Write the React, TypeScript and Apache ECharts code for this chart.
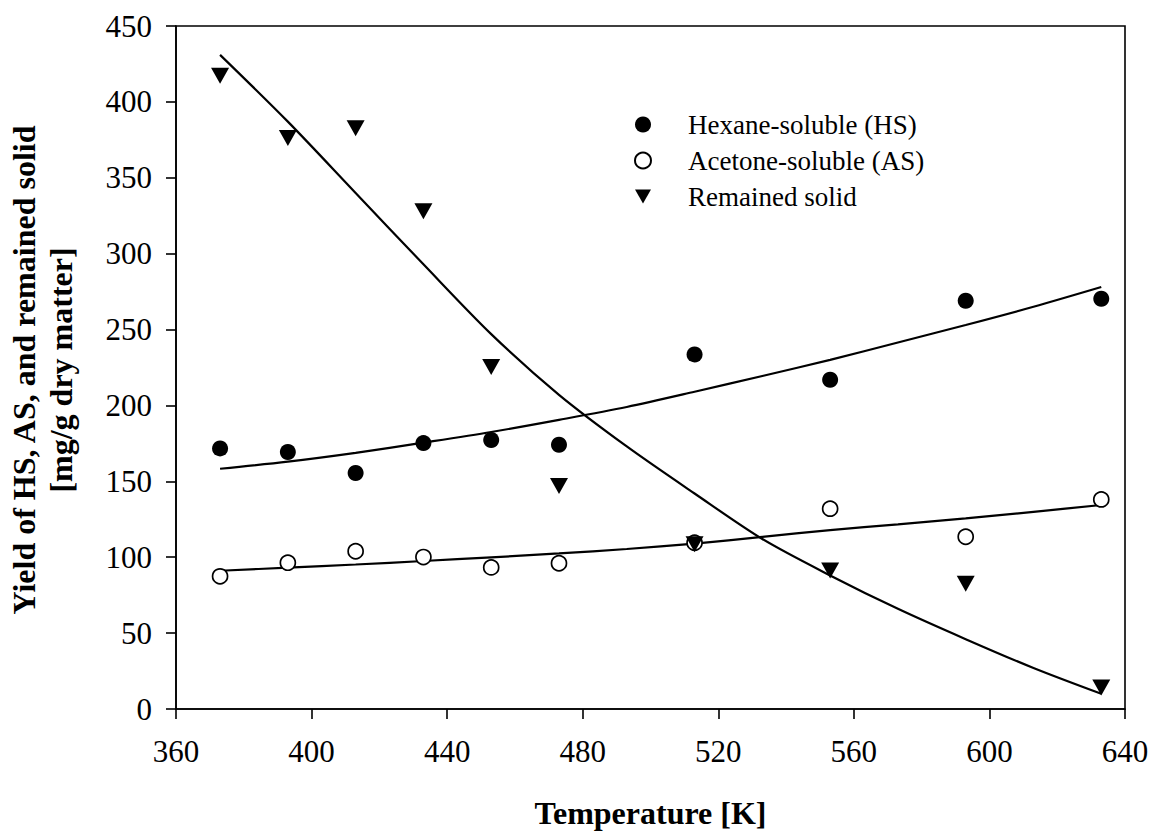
import React, { useEffect, useRef } from "react";
import * as echarts from "echarts";

const temps = [373, 393, 413, 433, 453, 473, 513, 553, 593, 633];
const hexaneSoluble = [171.7, 169.3, 155.5, 175.2, 177.2, 174.1, 233.6, 216.9, 269.0, 270.3];
const acetoneSoluble = [87.4, 96.4, 103.9, 100.1, 93.3, 96.0, 109.5, 132.0, 113.5, 138.1];
const remainedSolid = [417.3, 376.2, 382.7, 327.9, 225.3, 147.0, 108.6, 91.2, 82.5, 14.2];

const fitX = [373, 393, 413, 433, 453, 473, 493, 513, 533, 553, 573, 593, 613, 633];
const fitHS = [158.3, 163.0, 168.8, 175.5, 182.5, 190.5, 199.0, 209.0, 219.4, 230.0, 241.5, 253.0, 265.0, 278.0];
const fitAS = [91.1, 93.1, 95.2, 97.5, 99.9, 102.5, 105.4, 109.0, 113.4, 117.9, 121.7, 125.6, 129.9, 134.4];
const fitRS = [431.0, 387.0, 340.0, 293.0, 247.0, 207.0, 173.0, 142.0, 112.0, 88.0, 66.0, 46.0, 27.0, 10.0];

const xTicks = { min: 360, max: 640, interval: 40 };
const yTicks = { min: 0, max: 450, interval: 50 };

const seriesNames = ["Hexane-soluble (HS)", "Acetone-soluble (AS)", "Remained solid"];
const xTitle = "Temperature [K]";
const yTitle = "Yield of HS, AS, and remained solid\n[mg/g dry matter]";

const FONT = "Liberation Serif, Times New Roman, serif";
const DOWN_TRIANGLE = "path://M0,0L18,0L9,16Z";

const zip = (xs: number[], ys: number[]) => xs.map((x, i) => [x, ys[i]]);

export default function App() {
  const ref = useRef<HTMLDivElement>(null);
  useEffect(() => {
    if (!ref.current) return;
    const chart = echarts.init(ref.current, null, { renderer: "svg" });
    const fitLine = (xs: number[], ys: number[]) => ({
      type: "line",
      data: zip(xs, ys),
      smooth: 0.3,
      showSymbol: false,
      symbol: "none",
      silent: true,
      lineStyle: { color: "#000", width: 2.2 },
      z: 1,
    });
    chart.setOption({
      animation: false,
      backgroundColor: "#fff",
      textStyle: { fontFamily: FONT, color: "#000" },
      grid: {
        left: 176,
        right: 35,
        top: 26,
        bottom: 126,
        show: true,
        borderColor: "#000",
        borderWidth: 1.6,
        backgroundColor: "transparent",
      },
      legend: {
        data: [
          { name: seriesNames[0], icon: "circle" },
          { name: seriesNames[1], icon: "circle" },
          { name: seriesNames[2], icon: DOWN_TRIANGLE },
        ],
        orient: "vertical",
        left: 634,
        top: 111,
        padding: 0,
        itemWidth: 16,
        itemHeight: 16,
        itemGap: 9,
        selectedMode: false,
        textStyle: {
          fontFamily: FONT,
          fontSize: 27,
          color: "#000",
          lineHeight: 27,
          padding: [0, 0, 0, 32],
        },
      },
      xAxis: {
        type: "value",
        min: xTicks.min,
        max: xTicks.max,
        interval: xTicks.interval,
        name: xTitle,
        nameLocation: "middle",
        nameGap: 88,
        nameTextStyle: { fontFamily: FONT, fontSize: 32, fontWeight: "bold", color: "#000" },
        axisLine: { show: true, lineStyle: { color: "#000", width: 1.6 } },
        axisTick: { show: true, inside: false, length: 10, lineStyle: { color: "#000", width: 1.6 } },
        axisLabel: { fontFamily: FONT, fontSize: 31, color: "#000", margin: 27 },
        splitLine: { show: false },
      },
      yAxis: {
        type: "value",
        min: yTicks.min,
        max: yTicks.max,
        interval: yTicks.interval,
        axisLine: { show: true, lineStyle: { color: "#000", width: 1.6 } },
        axisTick: { show: true, inside: false, length: 10, lineStyle: { color: "#000", width: 1.6 } },
        axisLabel: { fontFamily: FONT, fontSize: 31, color: "#000", margin: 24 },
        splitLine: { show: false },
      },
      graphic: [
        {
          type: "text",
          x: 42,
          y: 370,
          rotation: Math.PI / 2,
          style: {
            text: yTitle,
            fontFamily: FONT,
            fontSize: 32,
            fontWeight: "bold",
            fill: "#000",
            align: "center",
            verticalAlign: "middle",
            lineHeight: 37,
          },
        },
      ],
      series: [
        fitLine(fitX, fitHS),
        fitLine(fitX, fitAS),
        fitLine(fitX, fitRS),
        {
          name: seriesNames[0],
          type: "scatter",
          data: zip(temps, hexaneSoluble),
          symbol: "circle",
          symbolSize: 16,
          itemStyle: { color: "#000", borderColor: "#000", borderWidth: 0, opacity: 1 },
          z: 3,
        },
        {
          name: seriesNames[1],
          type: "scatter",
          data: zip(temps, acetoneSoluble),
          symbol: "circle",
          symbolSize: 15,
          itemStyle: { color: "#fff", borderColor: "#000", borderWidth: 1.7, opacity: 1 },
          z: 3,
        },
        {
          name: seriesNames[2],
          type: "scatter",
          data: zip(temps, remainedSolid),
          symbol: "triangle",
          symbolRotate: 180,
          symbolSize: [18, 16],
          itemStyle: { color: "#000", borderWidth: 0, opacity: 1 },
          z: 4,
        },
      ],
    });
    return () => chart.dispose();
  }, []);
  return <div ref={ref} style={{ width: 1160, height: 835, position: "absolute", left: 0, top: 0 }} />;
}
